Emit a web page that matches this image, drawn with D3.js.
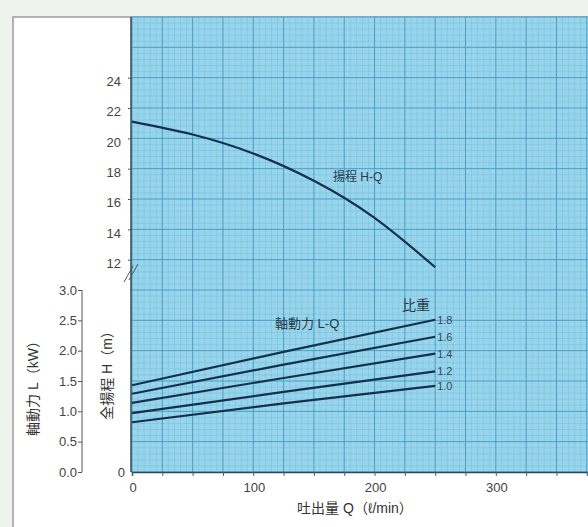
<!DOCTYPE html>
<html><head><meta charset="utf-8">
<script src="https://cdn.jsdelivr.net/npm/d3@7/dist/d3.min.js"></script>
<style>
html,body{margin:0;padding:0;background:#eef2ec;}
svg{display:block;font-family:"Liberation Sans","Noto Sans CJK JP",sans-serif;}
</style></head>
<body>
<svg id="c" width="588" height="527"></svg>
<script>
// ---- data ----
const qHQ = [0, 50, 100, 150, 200, 250];
const hHQ = [21.1, 20.25, 19.0, 17.2, 14.75, 11.5];
const qLQ = [0, 125, 250];
const sgLabels = ["1.8", "1.6", "1.4", "1.2", "1.0"];
const lLQ = [
  [1.43, 1.98, 2.51],
  [1.29, 1.77, 2.23],
  [1.14, 1.55, 1.95],
  [0.97, 1.32, 1.66],
  [0.82, 1.13, 1.42]
];
const xTicks = [0, 100, 200, 300];
const hTicks = [12, 14, 16, 18, 20, 22, 24];
const lTicks = [0.0, 0.5, 1.0, 1.5, 2.0, 2.5, 3.0];

const svg = d3.select("#c");
const W = 588, H = 527;
const x = d3.scaleLinear().domain([0, 376]).range([132, 588]);
const yL = d3.scaleLinear().domain([0, 7.5]).range([472, 17]);
const yH = d3.scaleLinear().domain([12, 28]).range([yL(3.5), yL(7.5)]);

// panel
svg.append("rect").attr("x", 0).attr("y", 0).attr("width", W).attr("height", H).attr("fill", "#eef2ec");
svg.append("rect").attr("x", 13).attr("y", 17).attr("width", W).attr("height", H).attr("fill", "#ffffff")
  .attr("stroke", "#9a9a9a").attr("stroke-width", 1.5);

// plot background
svg.append("rect").attr("x", 131).attr("y", 17).attr("width", W - 131).attr("height", 472 - 17).attr("fill", "#98d5ec");

// grid
const g = svg.append("g");
d3.range(0, 377, 5).forEach(v => {
  if (v % 25 === 0) return;
  g.append("line").attr("x1", x(v)).attr("x2", x(v)).attr("y1", 17).attr("y2", 472)
    .attr("stroke", "#78c2df").attr("stroke-width", 0.8).attr("opacity", 0.7);
});
d3.range(0, 75, 1).forEach(i => {
  if (i % 5 === 0) return;
  const v = i / 10;
  g.append("line").attr("x1", 131).attr("x2", W).attr("y1", yL(v)).attr("y2", yL(v))
    .attr("stroke", "#78c2df").attr("stroke-width", 0.8).attr("opacity", 0.7);
});
d3.range(0, 377, 25).forEach(v => {
  g.append("line").attr("x1", x(v)).attr("x2", x(v)).attr("y1", 17).attr("y2", 472)
    .attr("stroke", "#4a9fc4").attr("stroke-width", 1);
});
d3.range(0, 7.6, 0.5).forEach(v => {
  g.append("line").attr("x1", 131).attr("x2", W).attr("y1", yL(v)).attr("y2", yL(v))
    .attr("stroke", "#4a9fc4").attr("stroke-width", 1);
});

// x axis
const xAxis = svg.append("g").attr("transform", "translate(0,472)")
  .call(d3.axisBottom(x).tickValues(d3.range(0, 377, 25)).tickSize(4).tickFormat(""));
xAxis.select(".domain").attr("stroke", "#2c4a5c").attr("stroke-width", 1.5);
xAxis.selectAll(".tick line").attr("stroke", "#2c6a88");
svg.append("g").selectAll("text").data(xTicks).join("text")
  .attr("x", d => x(d) + 1).attr("y", 492).attr("text-anchor", "middle")
  .attr("font-size", 13).attr("fill", "#444").text(d => d);

// H axis (left of plot)
svg.append("line").attr("x1", 131).attr("x2", 131).attr("y1", 17).attr("y2", 472)
  .attr("stroke", "#2c4a5c").attr("stroke-width", 1.5);
const hAxis = svg.append("g").attr("transform", "translate(131,0)")
  .call(d3.axisLeft(yH).tickValues(hTicks).tickSize(3).tickFormat(d => d));
hAxis.select(".domain").remove();
hAxis.selectAll(".tick line").attr("stroke", "#555");
hAxis.selectAll(".tick text").attr("font-size", 13).attr("fill", "#444")
  .attr("font-family", "Liberation Sans, sans-serif").attr("x", -10).attr("dy", "0.6em");
svg.append("text").attr("x", 125).attr("y", yL(0)).attr("dy", "0.35em").attr("text-anchor", "end")
  .attr("font-size", 13).attr("fill", "#444").text("0");
// break mark
[0, 5].forEach(o => {
  svg.append("line").attr("x1", 124 + o).attr("y1", 282 - o * 0.4).attr("x2", 133 + o).attr("y2", 266 - o * 0.4)
    .attr("stroke", "#555").attr("stroke-width", 1);
});

// L axis
const lAxis = svg.append("g").attr("transform", "translate(82,0)")
  .call(d3.axisLeft(yL).tickValues(lTicks).tickSize(4).tickFormat(d3.format(".1f")));
lAxis.select(".domain").attr("stroke", "#555").attr("d", `M0,${yL(3)}V${yL(0)}`);
lAxis.selectAll(".tick line").attr("stroke", "#555");
lAxis.selectAll(".tick text").attr("font-size", 13).attr("fill", "#444")
  .attr("font-family", "Liberation Sans, sans-serif").attr("x", -5);

// axis titles
svg.append("text").attr("transform", `translate(38,385) rotate(-90)`).attr("text-anchor", "middle")
  .attr("font-size", 14).attr("fill", "#333").text("軸動力 L（kW）");
svg.append("text").attr("transform", `translate(112,372) rotate(-90)`).attr("text-anchor", "middle")
  .attr("font-size", 14).attr("fill", "#333").text("全揚程 H（m）");
svg.append("text").attr("x", 355).attr("y", 513).attr("text-anchor", "middle")
  .attr("font-size", 14).attr("fill", "#333").text("吐出量 Q（ℓ/min）");

// curves
const lineH = d3.line().x((d, i) => x(qHQ[i])).y(d => yH(d)).curve(d3.curveNatural);
svg.append("path").attr("d", lineH(hHQ)).attr("fill", "none").attr("stroke", "#15304a").attr("stroke-width", 2.2);

const lineL = d3.line().x((d, i) => x(qLQ[i])).y(d => yL(d)).curve(d3.curveNatural);
lLQ.forEach((s, k) => {
  svg.append("path").attr("d", lineL(s)).attr("fill", "none").attr("stroke", "#15304a").attr("stroke-width", 2.2);
  svg.append("text").attr("x", x(250) + 2).attr("y", yL(s[s.length - 1])).attr("dy", "0.35em")
    .attr("font-size", 11).attr("fill", "#3a4a55").text(sgLabels[k]);
});

// annotations
svg.append("text").attr("x", 333).attr("y", 181).attr("font-size", 12).attr("fill", "#2a3a48").text("揚程 H-Q");
svg.append("text").attr("x", 275).attr("y", 328).attr("font-size", 13).attr("fill", "#2a3a48").text("軸動力 L-Q");
svg.append("text").attr("x", 402).attr("y", 310).attr("font-size", 14).attr("fill", "#2a3a48").text("比重");
</script>
</body></html>
